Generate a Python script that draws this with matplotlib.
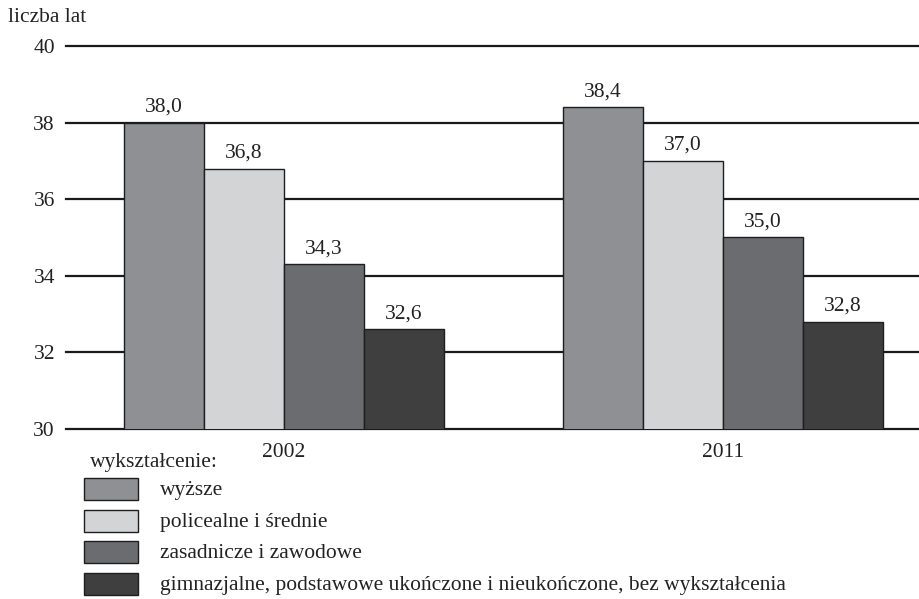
import matplotlib.pyplot as plt
from matplotlib.patches import Rectangle
import numpy as np

plt.rcParams['font.family'] = ['Liberation Serif', 'DejaVu Serif']

# Median age by education level
years = ['2002', '2011']
categories = ['wyższe', 'policealne i średnie', 'zasadnicze i zawodowe',
              'gimnazjalne, podstawowe ukończone i nieukończone, bez wykształcenia']
values = {
    'wyższe': [38.0, 38.4],
    'policealne i średnie': [36.8, 37.0],
    'zasadnicze i zawodowe': [34.3, 35.0],
    'gimnazjalne, podstawowe ukończone i nieukończone, bez wykształcenia': [32.6, 32.8],
}
colors = ['#8f9094', '#d3d4d6', '#6b6c70', '#3f3f40']
yticks = [30, 32, 34, 36, 38, 40]

FS = 15.5
W, H = 920, 599
fig = plt.figure(figsize=(9.2, 5.99), dpi=100)
ax = fig.add_axes([66 / W, 1 - 429 / H, (920 - 66) / W, (429 - 46) / H])

x = np.arange(len(years))
bw = 0.182
for i, cat in enumerate(categories):
    pos = x + (i - 1.5) * bw
    ax.bar(pos, values[cat], width=bw, color=colors[i],
           edgecolor='#1e1e1e', linewidth=1.0, zorder=3)
    for p, v in zip(pos, values[cat]):
        ax.text(p, v + 0.29, f'{v:.1f}'.replace('.', ','), ha='center', va='baseline',
                fontsize=FS, color='#222222')

for t in yticks:
    ax.axhline(t, color='#1a1a1a', linewidth=1.6, zorder=1, clip_on=False)

ax.set_ylim(30, 40)
ax.set_xlim(-0.497, 1.449)
ax.set_yticks(yticks)
ax.set_yticklabels([str(t) for t in yticks], fontsize=FS, color='#222222')
ax.tick_params(axis='y', length=0, pad=8)
ax.set_xticks(x)
ax.set_xticklabels(years, fontsize=FS, color='#222222')
ax.tick_params(axis='x', length=0, pad=10)
for s in ax.spines.values():
    s.set_visible(False)

fig.text(8 / W, 1 - 17 / H, 'liczba lat', fontsize=FS, color='#222222', va='center')

# legend drawn by hand below the plot
fig.text(90 / W, 1 - 463 / H, 'wykształcenie:', fontsize=FS, color='#222222', va='center')
for i, cat in enumerate(categories):
    top = 478 + i * 31.5
    fig.add_artist(Rectangle((84 / W, 1 - (top + 22) / H), 54 / W, 22 / H,
                             facecolor=colors[i], edgecolor='#1e1e1e', linewidth=1.0,
                             transform=fig.transFigure))
    fig.text(160 / W, 1 - (top + 13) / H, cat, fontsize=FS, color='#222222', va='center')

fig.savefig('out.png', dpi=100)
